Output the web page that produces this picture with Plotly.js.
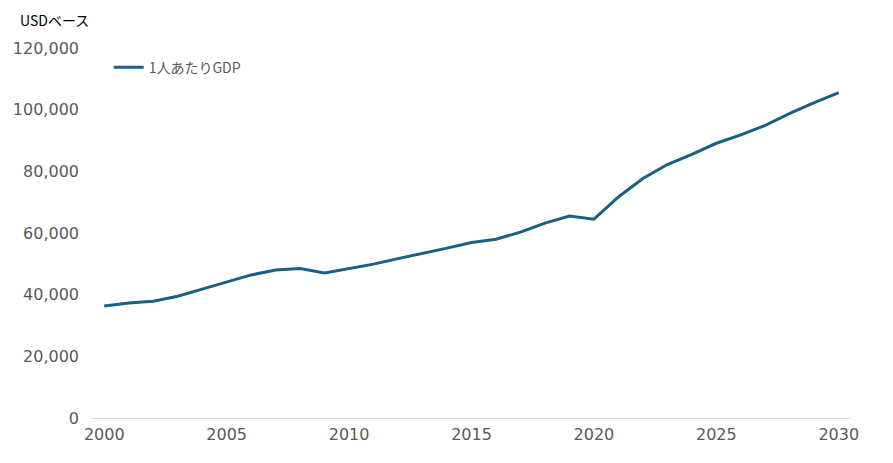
<!DOCTYPE html>
<html>
<head>
<meta charset="utf-8">
<script src="https://cdn.plot.ly/plotly-3.0.1.min.js"></script>
<style>html,body{margin:0;padding:0;background:#fff;}#chart{width:893px;height:463px;}</style>
</head>
<body>
<div id="chart"></div>
<script>
const years = [2000,2001,2002,2003,2004,2005,2006,2007,2008,2009,2010,2011,2012,2013,2014,2015,2016,2017,2018,2019,2020,2021,2022,2023,2024,2025,2026,2027,2028,2029,2030];
const gdpPerCapita = [36300,37300,37900,39500,41800,44100,46400,48000,48500,47000,48500,49900,51700,53300,55100,56900,58000,60300,63200,65500,64500,71700,77700,82200,85500,89100,91800,94900,98800,102300,105500];
const seriesName = '1人あたりGDP';
const unitLabel = 'USDベース';
const xTicks = [2000,2005,2010,2015,2020,2025,2030];
const yTicks = [0,20000,40000,60000,80000,100000,120000];

const font = '"Noto Sans CJK JP", "Noto Sans", sans-serif';
const numFont = '"DejaVu Sans", "Noto Sans", sans-serif';
Plotly.newPlot('chart', [{
  x: years, y: gdpPerCapita, type: 'scatter', mode: 'lines', name: seriesName,
  line: {color: '#1B5F82', width: 3}
}], {
  width: 893, height: 463,
  margin: {l: 92, r: 42, t: 48, b: 45},
  paper_bgcolor: '#fff', plot_bgcolor: '#fff',
  font: {family: font, color: '#595959'},
  showlegend: true,
  legend: {x: 0.022, y: 0.99, xanchor: 'left', yanchor: 'top', font: {size: 14, color: '#595959'}, bgcolor: 'rgba(0,0,0,0)'},
  xaxis: {range: [1999.5, 2030.5], tickvals: xTicks, ticks: '', showgrid: false, zeroline: false,
          showline: true, linecolor: '#D9D9D9', linewidth: 1, ticklabelstandoff: 2,
          tickfont: {family: numFont, size: 16, color: '#595959'}, fixedrange: true},
  yaxis: {range: [0, 120000], tickvals: yTicks, tickformat: ',', ticks: '', showgrid: false, zeroline: false,
          showline: false, ticklabelstandoff: 12, tickfont: {family: numFont, size: 16, color: '#595959'}, fixedrange: true},
  annotations: [{text: unitLabel, xref: 'paper', yref: 'paper', x: -0.098, y: 1.0, xanchor: 'left', yanchor: 'bottom',
                 yshift: 16, showarrow: false, font: {size: 14, color: '#000'}}]
}, {displayModeBar: false, staticPlot: true});
</script>
</body>
</html>
